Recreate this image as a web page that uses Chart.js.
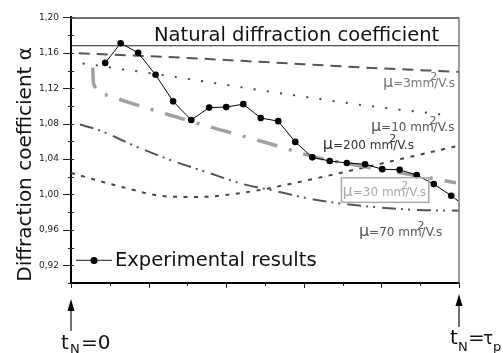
<!DOCTYPE html>
<html><head><meta charset="utf-8">
<script src="https://cdn.jsdelivr.net/npm/chart.js@4.4.0/dist/chart.umd.min.js"></script>
<style>html,body{margin:0;padding:0;background:#fff;overflow:hidden}#wrap{width:503px;height:353px;position:relative}</style>
</head><body><div id="wrap"><canvas id="c" width="503" height="353"></canvas></div>
<script>
// ---------------- DATA ----------------
const expX = [0.088,0.128,0.173,0.218,0.263,0.310,0.356,0.400,0.444,0.489,0.534,0.578,0.622,0.667,0.711,0.758,0.802,0.847,0.891,0.935,0.980,1.000];
const expY = [1.1486,1.1708,1.1600,1.1352,1.1052,1.0841,1.0981,1.0987,1.1020,1.0864,1.0828,1.0594,1.0419,1.0378,1.0356,1.0341,1.0286,1.0278,1.0219,1.0117,0.9986,0.9920];
const mu3X  = [0.02,0.25,0.50,0.75,1.00];
const mu3Y  = [1.1595,1.1553,1.1495,1.1435,1.1385];
const mu10X = [0.03,0.25,0.50,0.75,0.98];
const mu10Y = [1.148,1.134,1.117,1.101,1.089];
const mu30X = [0.056,0.058,0.088,0.140,0.261,0.385,0.506,0.630,0.747,0.867,0.992];
const mu30Y = [1.1433,1.1256,1.1126,1.1052,1.0889,1.0730,1.0581,1.0422,1.0322,1.0230,1.0133];
const mu200X = [0.000,0.127,0.248,0.333,0.411,0.488,0.592,0.677,0.850,1.000];
const mu200Y = [1.0244,1.0089,0.9978,0.9972,1.0000,1.0052,1.0144,1.0226,1.0400,1.0552];
const mu70X = [0.023,0.075,0.160,0.256,0.351,0.444,0.522,0.618,0.703,0.876,1.000];
const mu70Y = [1.0790,1.0722,1.0556,1.0389,1.0250,1.0117,1.0044,0.9950,0.9894,0.9828,0.9817];
const naturalCoef = 1.168;
const yTickValues = [0.92,0.96,1.00,1.04,1.08,1.12,1.16,1.20];
const yMinorValues = [0.90,0.94,0.98,1.02,1.06,1.10,1.14,1.18];
const xMajorValues = [0,0.2,0.4,0.6,0.8,1.0];
const xMinorValues = [0.1,0.3,0.5,0.7,0.9];
// --------------------------------------

const FONT = '"DejaVu Sans"';
Chart.defaults.font.family = 'DejaVu Sans';
const pts = (xs, ys) => xs.map((x, i) => ({x: x, y: ys[i]}));

function muLabel(ctx, x, y, val, color, space) {
  ctx.fillStyle = color;
  ctx.textAlign = 'left'; ctx.textBaseline = 'alphabetic';
  ctx.font = '16px ' + FONT; ctx.fillText('μ', x, y);
  let cx = x + ctx.measureText('μ').width;
  ctx.font = '12px ' + FONT;
  const s1 = '=' + val + (space ? ' ' : '') + 'mm';
  ctx.fillText(s1, cx, y); cx += ctx.measureText(s1).width;
  ctx.fillText('/V.s', cx, y);
  ctx.font = '11px ' + FONT; ctx.fillText('2', cx - 4, y - 7);
}

const decor = {
  id: 'decor',
  afterDraw(chart) {
    const ctx = chart.ctx, a = chart.chartArea, xs = chart.scales.x, ys = chart.scales.y;
    ctx.save();
    // tick marks
    ctx.strokeStyle = '#222'; ctx.lineWidth = 1;
    yTickValues.forEach(v => { const y = Math.round(ys.getPixelForValue(v)) + 0.5; ctx.beginPath(); ctx.moveTo(a.left - 8, y); ctx.lineTo(a.left + 3, y); ctx.stroke(); });
    yMinorValues.forEach(v => { const y = Math.round(ys.getPixelForValue(v)) + 0.5; ctx.beginPath(); ctx.moveTo(a.left - 3, y); ctx.lineTo(a.left + 3, y); ctx.stroke(); });
    xMajorValues.forEach(v => { const x = Math.round(xs.getPixelForValue(v)) + 0.5; ctx.beginPath(); ctx.moveTo(x, a.bottom); ctx.lineTo(x, a.bottom + 5); ctx.stroke(); });
    xMinorValues.forEach(v => { const x = Math.round(xs.getPixelForValue(v)) + 0.5; ctx.beginPath(); ctx.moveTo(x, a.bottom); ctx.lineTo(x, a.bottom + 3); ctx.stroke(); });

    // mu labels
    muLabel(ctx, xs.getPixelForValue(0.804), ys.getPixelForValue(1.1211), '3', '#777', false);
    muLabel(ctx, xs.getPixelForValue(0.773), ys.getPixelForValue(1.0722), '10', '#555', true);
    muLabel(ctx, xs.getPixelForValue(0.649), ys.getPixelForValue(1.0511), '200', '#333', true);
    muLabel(ctx, xs.getPixelForValue(0.700), ys.getPixelForValue(0.9978), '30', '#aaa', true);
    muLabel(ctx, xs.getPixelForValue(0.742), ys.getPixelForValue(0.9533), '70', '#555', true);
    // box around mu=30
    ctx.strokeStyle = '#aaa'; ctx.lineWidth = 1.5;
    const bx0 = xs.getPixelForValue(0.697), bx1 = xs.getPixelForValue(0.922);
    const by0 = ys.getPixelForValue(1.0189), by1 = ys.getPixelForValue(0.9911);
    ctx.strokeRect(bx0, by0, bx1 - bx0, by1 - by0);

    // frame top / right
    ctx.strokeStyle = '#444'; ctx.lineWidth = 1.5;
    ctx.beginPath(); ctx.moveTo(a.left, a.top + 0.5); ctx.lineTo(a.right, a.top + 0.5); ctx.stroke();
    ctx.strokeStyle = '#777';
    ctx.beginPath(); ctx.moveTo(a.right, a.top); ctx.lineTo(a.right, a.bottom); ctx.stroke();

    // natural coefficient text
    ctx.fillStyle = '#111'; ctx.font = '19.5px ' + FONT; ctx.textAlign = 'left';
    ctx.fillText('Natural diffraction coefficient', a.left + 83, a.top + 24);

    // y title
    ctx.save();
    ctx.translate(31, a.top + 147); ctx.rotate(-Math.PI / 2);
    ctx.textAlign = 'center'; ctx.font = '20px ' + FONT; ctx.fillStyle = '#111';
    ctx.fillText('Diffraction coefficient α', 0, 0);
    ctx.restore();

    // legend
    const ly = a.top + 243;
    ctx.strokeStyle = '#444'; ctx.lineWidth = 1.3;
    ctx.beginPath(); ctx.moveTo(a.left + 5, ly); ctx.lineTo(a.left + 41, ly); ctx.stroke();
    ctx.fillStyle = '#000'; ctx.beginPath(); ctx.arc(a.left + 23, ly, 3.5, 0, Math.PI * 2); ctx.fill();
    ctx.font = '19.5px ' + FONT; ctx.fillStyle = '#111'; ctx.textAlign = 'left';
    ctx.fillText('Experimental results', a.left + 44, ly + 6);

    // arrows
    function arrow(x, yTip, yEnd) {
      ctx.strokeStyle = '#444'; ctx.lineWidth = 1.5;
      ctx.beginPath(); ctx.moveTo(x, yEnd); ctx.lineTo(x, yTip + 8); ctx.stroke();
      ctx.fillStyle = '#000'; ctx.beginPath();
      ctx.moveTo(x, yTip); ctx.lineTo(x - 3.5, yTip + 12); ctx.lineTo(x + 3.5, yTip + 12); ctx.closePath(); ctx.fill();
    }
    arrow(a.left, a.bottom + 16, a.bottom + 48);
    arrow(a.right, a.bottom + 11, a.bottom + 44);

    // t_N labels
    ctx.fillStyle = '#111'; ctx.textAlign = 'left';
    ctx.font = '20px ' + FONT; ctx.fillText('t', a.left - 10, 349);
    ctx.font = '13px ' + FONT; ctx.fillText('N', a.left - 1, 353);
    ctx.font = '20px ' + FONT; ctx.fillText('=0', a.left + 10, 349);

    ctx.font = '20px ' + FONT; ctx.fillText('t', a.right - 9, 344);
    ctx.font = '13px ' + FONT; ctx.fillText('N', a.right - 1, 351);
    ctx.font = '20px ' + FONT; ctx.fillText('=', a.right + 9, 344);
    ctx.font = '17px ' + FONT; ctx.fillText('τ', a.right + 24, 344);
    ctx.font = '13px ' + FONT; ctx.fillText('p', a.right + 34, 351);
    ctx.restore();
  }
};

new Chart(document.getElementById('c'), {
  type: 'line',
  data: {
    datasets: [
      { label: 'Experimental results', data: pts(expX, expY), order: 0,
        borderColor: '#000', borderWidth: 1, tension: 0,
        pointRadius: expX.map((x, i) => i === expX.length - 1 ? 0 : 3.3),
        pointBackgroundColor: '#000', pointBorderWidth: 0 },
      { label: 'Natural', data: [{x: 0, y: naturalCoef}, {x: 1, y: naturalCoef}], order: 1,
        borderColor: '#222', borderWidth: 1.2, pointRadius: 0 },
      { label: 'mu3', data: pts(mu3X, mu3Y), order: 2, borderColor: '#555', borderWidth: 2,
        borderDash: [11, 7], pointRadius: 0, cubicInterpolationMode: 'monotone' },
      { label: 'mu10', data: pts(mu10X, mu10Y), order: 3, borderColor: '#444', borderWidth: 2,
        borderDash: [2, 11.3], pointRadius: 0, cubicInterpolationMode: 'monotone' },
      { label: 'mu30', data: pts(mu30X, mu30Y), order: 4, borderColor: '#a0a0a0', borderWidth: 3.5,
        borderDash: [21, 12, 3, 12], pointRadius: 0, cubicInterpolationMode: 'monotone' },
      { label: 'mu200', data: pts(mu200X, mu200Y), order: 5, borderColor: '#444', borderWidth: 2,
        borderDash: [4, 6.5], pointRadius: 0, cubicInterpolationMode: 'monotone' },
      { label: 'mu70', data: pts(mu70X, mu70Y), order: 6, borderColor: '#555', borderWidth: 2,
        borderDash: [14, 5, 2, 5, 2, 7], pointRadius: 0, cubicInterpolationMode: 'monotone' }
    ]
  },
  options: {
    responsive: false, animation: false, devicePixelRatio: 1,
    layout: { padding: { top: 13, right: 44, left: 0, bottom: 0 } },
    plugins: { legend: { display: false }, tooltip: { enabled: false } },
    scales: {
      x: { type: 'linear', min: 0, max: 1,
        grid: { display: false, drawTicks: false },
        ticks: { display: false },
        border: { display: true, color: '#000', width: 2 },
        afterFit: s => { s.height = 70; } },
      y: { type: 'linear', min: 0.90, max: 1.20,
        afterBuildTicks: s => { s.ticks = yTickValues.map(v => ({value: v})); },
        grid: { display: false, drawTicks: false },
        ticks: { padding: 12, color: '#222', font: { size: 9, family: 'DejaVu Sans' },
          callback: v => Number(v).toFixed(2).replace('.', ',') },
        border: { display: true, color: '#000', width: 2 },
        afterFit: s => { s.width = 71; } }
    }
  },
  plugins: [decor]
});
</script>
</body></html>
